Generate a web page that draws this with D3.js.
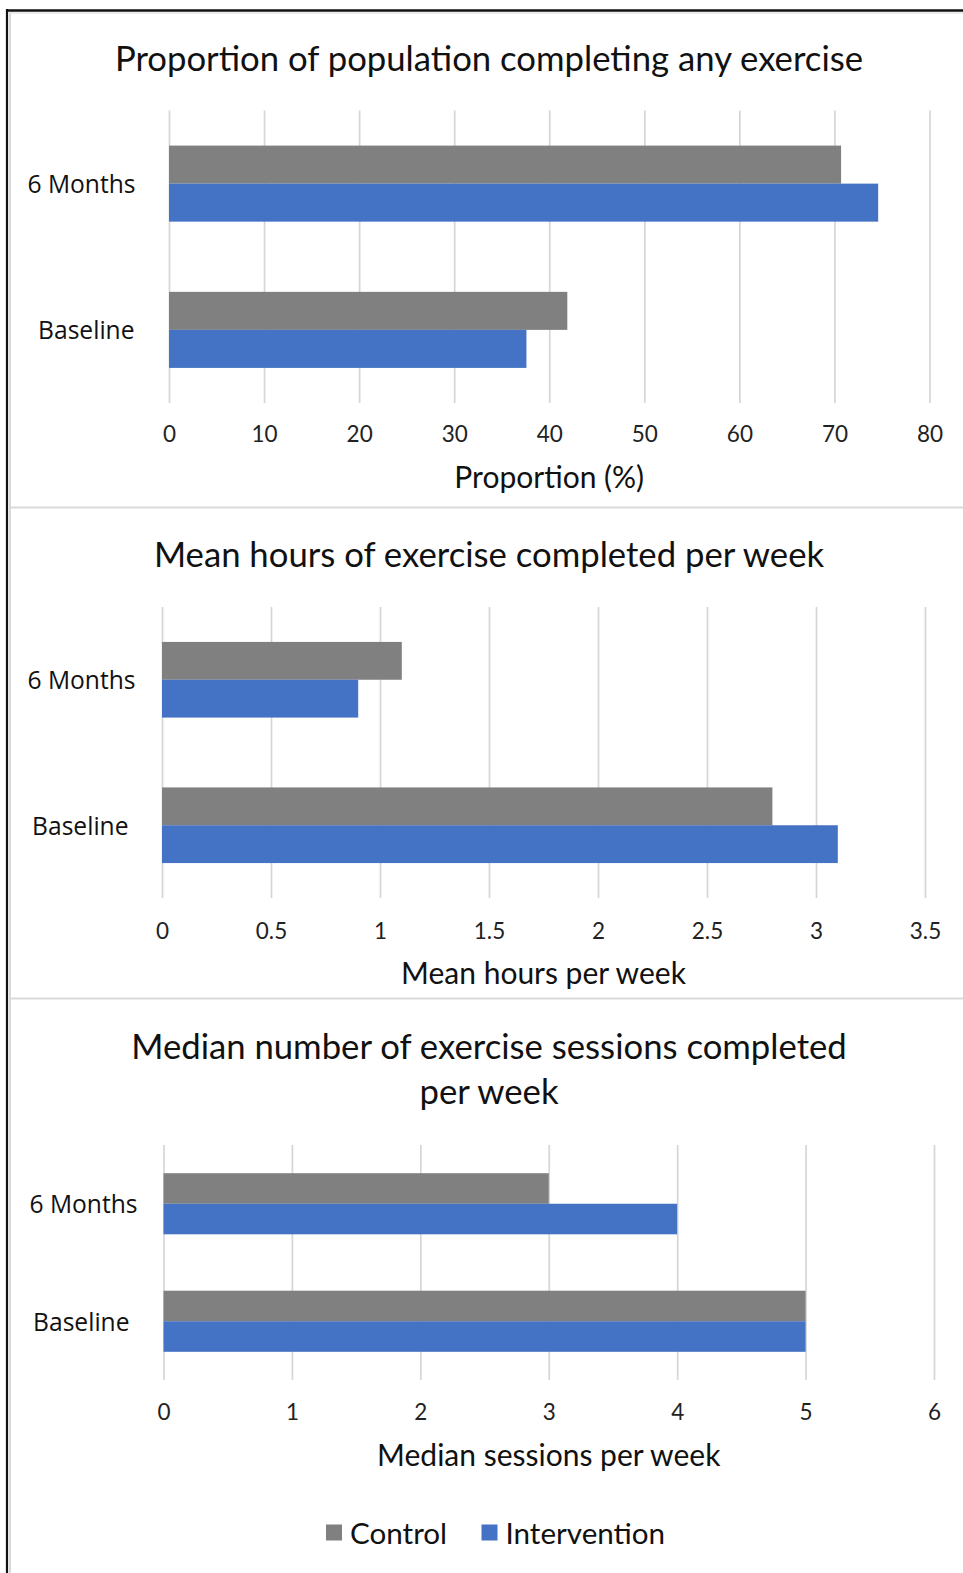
<!DOCTYPE html>
<html>
<head>
<meta charset="utf-8">
<script src="https://cdn.jsdelivr.net/npm/d3@7"></script>
<style>
  html, body { margin: 0; padding: 0; background: #fff; }
  svg { display: block; }
</style>
</head>
<body>
<svg id="chart" width="963" height="1573"></svg>
<script>
// Categories and series shared by all three panels
const categories = ["6 Months", "Baseline"];
const seriesNames = ["Control", "Intervention"];
const seriesColors = ["#808080", "#4472c4"];

// Proportion of population completing any exercise (%)
const proportionControl = [70.7, 41.9];
const proportionIntervention = [74.6, 37.6];
const proportionTicks = [0, 10, 20, 30, 40, 50, 60, 70, 80];

// Mean hours of exercise per week
const hoursControl = [1.1, 2.8];
const hoursIntervention = [0.9, 3.1];
const hoursTicks = [0, 0.5, 1, 1.5, 2, 2.5, 3, 3.5];

// Median exercise sessions per week
const sessionsControl = [3, 5];
const sessionsIntervention = [4, 5];
const sessionsTicks = [0, 1, 2, 3, 4, 5, 6];

const titleFont = "Lato, 'Open Sans', sans-serif";
const catFont = "'Open Sans', 'Noto Sans', sans-serif";

const svg = d3.select("#chart");

// Frame: outer black rule plus the light chart-area borders
svg.append("line").attr("x1", 7).attr("x2", 7).attr("y1", 9).attr("y2", 1573)
  .attr("stroke", "#111").attr("stroke-width", 2.2);
svg.append("line").attr("x1", 6).attr("x2", 963).attr("y1", 10.5).attr("y2", 10.5)
  .attr("stroke", "#111").attr("stroke-width", 2.4);
svg.append("line").attr("x1", 10).attr("x2", 10).attr("y1", 12).attr("y2", 1573)
  .attr("stroke", "#d9d9d9").attr("stroke-width", 2);
svg.append("line").attr("x1", 9).attr("x2", 963).attr("y1", 13).attr("y2", 13)
  .attr("stroke", "#e6e6e6").attr("stroke-width", 1.5);
[507.5, 998.5].forEach(y => {
  svg.append("line").attr("x1", 10).attr("x2", 963).attr("y1", y).attr("y2", y)
    .attr("stroke", "#d9d9d9").attr("stroke-width", 2);
});

const panels = [
  {
    title: ["Proportion of population completing any exercise"],
    titleY: [57],
    axisTitle: "Proportion (%)",
    values: [proportionControl, proportionIntervention],
    ticks: proportionTicks,
    x: [169, 929.5], y: [110.5, 403],
    tickY: 433, axisTitleY: 476,
    labelEnd: [135.5, 134.5]
  },
  {
    title: ["Mean hours of exercise completed per week"],
    titleY: [553.5],
    axisTitle: "Mean hours per week",
    values: [hoursControl, hoursIntervention],
    ticks: hoursTicks,
    x: [162, 925], y: [607, 898],
    tickY: 930, axisTitleY: 972,
    labelEnd: [135.5, 128.5]
  },
  {
    title: ["Median number of exercise sessions completed", "per week"],
    titleY: [1045, 1090],
    axisTitle: "Median sessions per week",
    values: [sessionsControl, sessionsIntervention],
    ticks: sessionsTicks,
    x: [163.5, 934], y: [1145, 1380],
    tickY: 1411, axisTitleY: 1453.5,
    labelEnd: [137.5, 129.5]
  }
];

panels.forEach(p => {
  const g = svg.append("g");
  const xScale = d3.scaleLinear()
    .domain([p.ticks[0], p.ticks[p.ticks.length - 1]])
    .range(p.x);
  const yScale = d3.scaleBand()
    .domain(categories)
    .range(p.y)
    .paddingInner(0.48)
    .paddingOuter(0.24);
  const ySub = d3.scaleBand()
    .domain(seriesNames)
    .range([0, yScale.bandwidth()]);

  // Title
  p.title.forEach((t, i) => {
    g.append("text")
      .attr("x", 489).attr("y", p.titleY[i])
      .attr("text-anchor", "middle").attr("dominant-baseline", "central")
      .attr("font-family", titleFont).attr("font-size", 34.7)
      .attr("fill", "#111").text(t);
  });

  // Vertical gridlines from the value axis
  const axis = d3.axisBottom(xScale)
    .tickValues(p.ticks)
    .tickSize(-(p.y[1] - p.y[0]))
    .tickPadding(0)
    .tickFormat(d3.format("~g"));
  const ag = g.append("g")
    .attr("transform", `translate(0,${p.y[1]})`)
    .call(axis);
  ag.select(".domain").remove();
  ag.selectAll(".tick line").attr("stroke", "#d6d6d6").attr("stroke-width", 1.7);
  ag.selectAll(".tick text")
    .attr("y", p.tickY - p.y[1]).attr("dy", null)
    .attr("dominant-baseline", "central")
    .attr("font-family", titleFont).attr("font-size", 22.5)
    .attr("fill", "#222");

  // Bars
  seriesNames.forEach((s, si) => {
    g.append("g").selectAll("rect")
      .data(p.values[si])
      .join("rect")
      .attr("x", xScale(0))
      .attr("y", (d, i) => yScale(categories[i]) + ySub(s))
      .attr("width", d => xScale(d) - xScale(0))
      .attr("height", ySub.bandwidth())
      .attr("fill", seriesColors[si]);
  });

  // Category labels
  categories.forEach((c, i) => {
    g.append("text")
      .attr("x", p.labelEnd[i])
      .attr("y", yScale(c) + yScale.bandwidth() / 2)
      .attr("text-anchor", "end").attr("dominant-baseline", "central")
      .attr("font-family", catFont).attr("font-size", 24.6)
      .attr("fill", "#111").text(c);
  });

  // Value axis title
  g.append("text")
    .attr("x", (p.x[0] + p.x[1]) / 2).attr("y", p.axisTitleY)
    .attr("text-anchor", "middle").attr("dominant-baseline", "central")
    .attr("font-family", titleFont).attr("font-size", 30)
    .attr("fill", "#111").text(p.axisTitle);
});

// Legend
const legendItems = [
  { name: seriesNames[0], color: seriesColors[0], x: 326 },
  { name: seriesNames[1], color: seriesColors[1], x: 481.5 }
];
const lg = svg.append("g");
legendItems.forEach(item => {
  lg.append("rect")
    .attr("x", item.x).attr("y", 1524.5)
    .attr("width", 16).attr("height", 16)
    .attr("fill", item.color);
  lg.append("text")
    .attr("x", item.x + 24).attr("y", 1532.5)
    .attr("dominant-baseline", "central")
    .attr("font-family", titleFont).attr("font-size", 29.6)
    .attr("fill", "#111").text(item.name);
});
</script>
</body>
</html>
